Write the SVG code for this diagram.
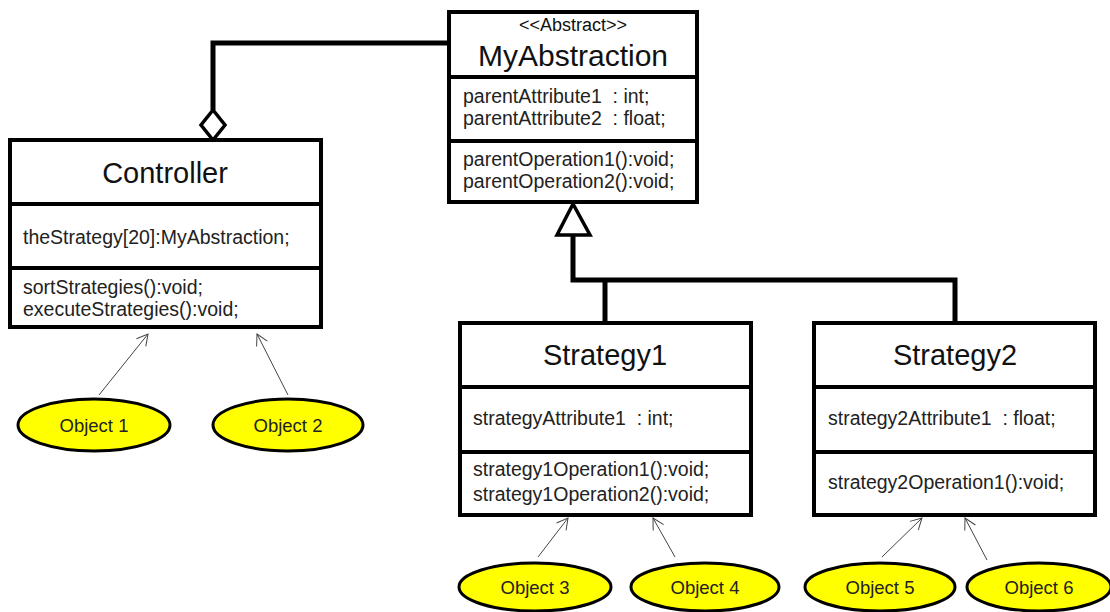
<svg xmlns="http://www.w3.org/2000/svg" width="1110" height="612" viewBox="0 0 1110 612">
<defs>
<style>
.box{fill:#fff;stroke:#000;stroke-width:4}
.div{stroke:#000;stroke-width:4}
.conn{fill:none;stroke:#000;stroke-width:5;stroke-linejoin:miter}
.dep{fill:none;stroke:#444;stroke-width:1}
.obj{fill:#ffff00;stroke:#000;stroke-width:3}
.title{font-family:"Liberation Sans",Arial,sans-serif;font-size:29px;fill:#111;text-anchor:middle}
.stereo{font-family:"Liberation Sans",Arial,sans-serif;font-size:18px;fill:#111;text-anchor:middle}
.mem{font-family:"Liberation Sans",Arial,sans-serif;font-size:19.5px;fill:#222;white-space:pre}
.olab{font-family:"Liberation Sans",Arial,sans-serif;font-size:18.5px;fill:#222;text-anchor:middle}
</style>
<marker id="open" markerWidth="14" markerHeight="14" refX="12" refY="7" orient="auto" markerUnits="userSpaceOnUse">
<path d="M1,1 L12,7 L1,13" fill="none" stroke="#444" stroke-width="1"/>
</marker>
</defs>
<rect width="1110" height="612" fill="#fff"/>

<g id="connectors">
<polyline class="conn" points="449,43 213,43 213,110"/>
<polygon points="213,110 201,125 213,140 225,125" fill="#fff" stroke="#000" stroke-width="3.5"/>
<polyline class="conn" points="573,235 573,280 955,280 955,323"/>
<line class="conn" x1="605" y1="280" x2="605" y2="323"/>
<polygon points="573,204 557,235 590,235" fill="#fff" stroke="#000" stroke-width="3.5"/>
<line class="dep" x1="99" y1="395" x2="148" y2="334" marker-end="url(#open)"/>
<line class="dep" x1="288" y1="395" x2="257" y2="334" marker-end="url(#open)"/>
<line class="dep" x1="538" y1="557" x2="568" y2="518" marker-end="url(#open)"/>
<line class="dep" x1="675" y1="557" x2="653" y2="518" marker-end="url(#open)"/>
<line class="dep" x1="882" y1="557" x2="922" y2="518" marker-end="url(#open)"/>
<line class="dep" x1="987" y1="560" x2="965" y2="518" marker-end="url(#open)"/>
</g>

<g id="MyAbstraction">
<rect class="box" x="449" y="12" width="248" height="190"/>
<line class="div" x1="449" y1="77" x2="697" y2="77"/>
<line class="div" x1="449" y1="141" x2="697" y2="141"/>
<text class="stereo" x="573" y="31">&lt;&lt;Abstract&gt;&gt;</text>
<text class="title" x="573" y="66" style="font-size:30px">MyAbstraction</text>
<text class="mem" x="463" y="103">parentAttribute1  : int;</text>
<text class="mem" x="463" y="125">parentAttribute2  : float;</text>
<text class="mem" x="463" y="166">parentOperation1():void;</text>
<text class="mem" x="463" y="188">parentOperation2():void;</text>
</g>

<g id="Controller">
<rect class="box" x="10" y="140" width="311" height="187"/>
<line class="div" x1="10" y1="204" x2="321" y2="204"/>
<line class="div" x1="10" y1="268" x2="321" y2="268"/>
<text class="title" x="165" y="183">Controller</text>
<text class="mem" x="23" y="244">theStrategy[20]:MyAbstraction;</text>
<text class="mem" x="23" y="294">sortStrategies():void;</text>
<text class="mem" x="23" y="316">executeStrategies():void;</text>
</g>

<g id="Strategy1">
<rect class="box" x="460" y="323" width="291" height="192"/>
<line class="div" x1="460" y1="387" x2="751" y2="387"/>
<line class="div" x1="460" y1="452" x2="751" y2="452"/>
<text class="title" x="605" y="365">Strategy1</text>
<text class="mem" x="473" y="425">strategyAttribute1  : int;</text>
<text class="mem" x="473" y="476">strategy1Operation1():void;</text>
<text class="mem" x="473" y="501">strategy1Operation2():void;</text>
</g>

<g id="Strategy2">
<rect class="box" x="814" y="323" width="281" height="192"/>
<line class="div" x1="814" y1="387" x2="1095" y2="387"/>
<line class="div" x1="814" y1="452" x2="1095" y2="452"/>
<text class="title" x="955" y="365">Strategy2</text>
<text class="mem" x="828" y="425">strategy2Attribute1  : float;</text>
<text class="mem" x="828" y="489">strategy2Operation1():void;</text>
</g>

<g id="Object1"><ellipse class="obj" cx="94" cy="425" rx="76" ry="26"/><text class="olab" x="94" y="432">Object 1</text></g>
<g id="Object2"><ellipse class="obj" cx="288" cy="425" rx="75" ry="26"/><text class="olab" x="288" y="432">Object 2</text></g>
<g id="Object3"><ellipse class="obj" cx="535" cy="587" rx="76" ry="24"/><text class="olab" x="535" y="594">Object 3</text></g>
<g id="Object4"><ellipse class="obj" cx="705" cy="587" rx="74" ry="24"/><text class="olab" x="705" y="594">Object 4</text></g>
<g id="Object5"><ellipse class="obj" cx="880" cy="587" rx="75" ry="24"/><text class="olab" x="880" y="594">Object 5</text></g>
<g id="Object6"><ellipse class="obj" cx="1039" cy="587" rx="72" ry="24"/><text class="olab" x="1039" y="594">Object 6</text></g>
</svg>
